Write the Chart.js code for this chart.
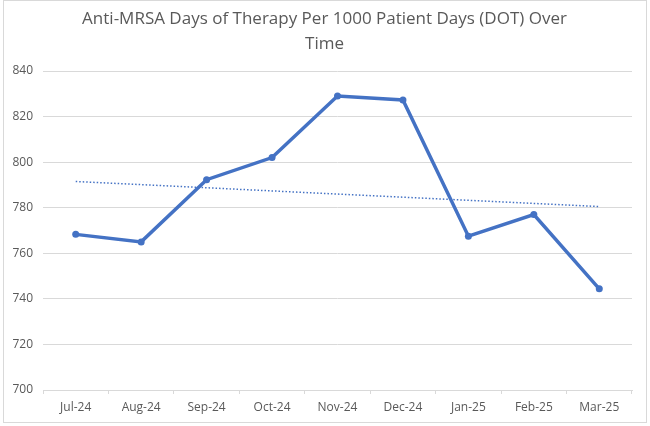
<!DOCTYPE html>
<html>
<head>
<meta charset="utf-8">
<script src="https://cdn.jsdelivr.net/npm/chart.js@4.4.1/dist/chart.umd.min.js"></script>
<style>
  html, body { margin: 0; padding: 0; background: #fff; }
  #wrap { position: relative; width: 650px; height: 426px; }
  #frame { position: absolute; left: 3px; top: 0; width: 642px; height: 421px; border: 1px solid #d9d9d9; pointer-events: none; }
</style>
</head>
<body>
<div id="wrap">
  <canvas id="chart" width="650" height="426"></canvas>
  <div id="frame"></div>
</div>
<script>
const MONTHS = ["Jul-24", "Aug-24", "Sep-24", "Oct-24", "Nov-24", "Dec-24", "Jan-25", "Feb-25", "Mar-25"];
const DOT_VALUES = [768.3, 765, 792.3, 802, 829, 827.3, 767.5, 777, 744.4];
const TREND_VALUES = [791.5, null, null, null, null, null, null, null, 780.5];
const TITLE_LINES = ["Anti-MRSA Days of Therapy Per 1000 Patient Days (DOT) Over", "Time"];

const BLUE = "#4472c4";
const TEXT = "#595959";
const GRID = "#d9d9d9";
const FONT = "'Open Sans', sans-serif";

new Chart(document.getElementById("chart"), {
  type: "line",
  data: {
    labels: MONTHS,
    datasets: [
      {
        label: "DOT",
        data: DOT_VALUES,
        borderColor: BLUE,
        backgroundColor: BLUE,
        borderWidth: 3.5,
        pointRadius: 3.5,
        pointBorderWidth: 0,
        tension: 0,
      },
      {
        label: "Trend",
        data: TREND_VALUES,
        spanGaps: true,
        borderColor: BLUE,
        borderWidth: 1.5,
        borderDash: [1.5, 2],
        pointRadius: 0,
        tension: 0,
      },
    ],
  },
  options: {
    responsive: false,
    animation: false,
    // symmetric padding keeps the title centred on the canvas
    layout: { padding: { left: 10, right: 11, top: 0, bottom: 4 } },
    plugins: {
      legend: { display: false },
      tooltip: { enabled: false },
      title: {
        display: true,
        text: TITLE_LINES,
        color: TEXT,
        font: { family: FONT, size: 17, weight: "normal", lineHeight: 1.5 },
        padding: { top: 6, bottom: 14 },
      },
    },
    scales: {
      x: {
        offset: true,
        border: { color: GRID },
        grid: { display: true, drawOnChartArea: false, color: GRID, tickLength: 4, offset: true },
        ticks: { color: TEXT, font: { family: FONT, size: 12 }, padding: 6, maxRotation: 0 },
        afterFit: (s) => { s.height = 32; },
      },
      y: {
        min: 700,
        max: 840,
        border: { display: false },
        grid: { color: GRID, drawTicks: false },
        ticks: { stepSize: 20, color: TEXT, font: { family: FONT, size: 12 }, padding: 10 },
        afterFit: (s) => { s.width = 33; },
      },
      // empty spacer on the right so the plot ends where the reference does
      spacer: {
        position: "right",
        display: true,
        border: { display: false },
        grid: { display: false },
        ticks: { display: false },
        afterFit: (s) => { s.width = 7; },
      },
    },
  },
});
</script>
</body>
</html>
